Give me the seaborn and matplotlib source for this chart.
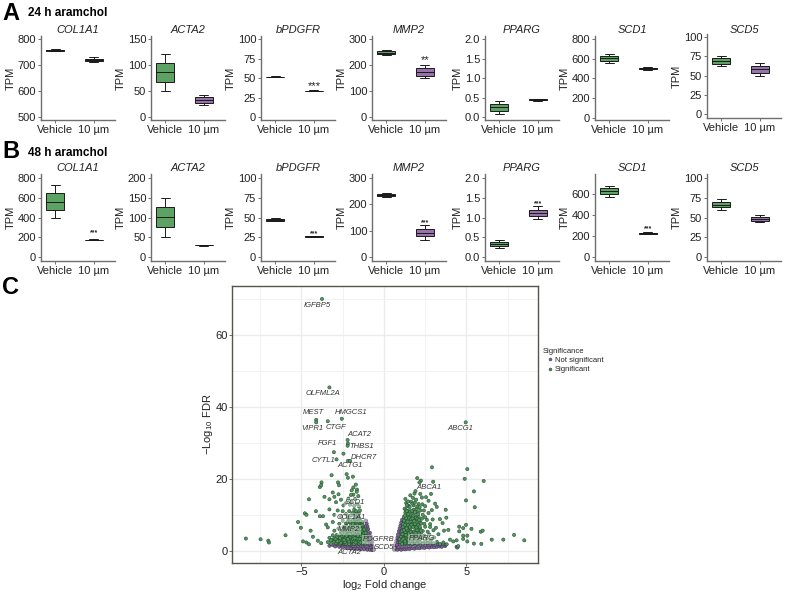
import matplotlib
matplotlib.use("Agg")
import matplotlib.pyplot as plt
import seaborn as sns
import pandas as pd

sns.set_theme(style="white")
plt.rcParams['font.family'] = ['Liberation Sans', 'DejaVu Sans']
plt.rcParams['mathtext.default'] = 'regular'

W, H = 787, 592
genes = ["COL1A1", "ACTA2", "bPDGFR", "MMP2", "PPARG", "SCD1", "SCD5"]
groups = ["Vehicle", "10 µm"]
panel_left = [41, 151, 261, 372, 485, 595, 707]

# five-number summaries: (vehicle, 10 µm)
a_COL1A1 = ([752, 755, 757, 759, 762], [712, 716, 720, 724, 730])
a_ACTA2 = ([50, 68, 86, 104, 121], [23, 28, 33, 39, 43])
a_bPDGFR = ([51.5, 51.8, 52, 52.2, 52.5], [33.5, 33.8, 34, 34.2, 34.5])
a_MMP2 = ([238, 243, 248, 254, 259], [150, 160, 175, 188, 200])
a_PPARG = ([0.1, 0.17, 0.26, 0.34, 0.42], [0.42, 0.44, 0.45, 0.46, 0.48])
a_SCD1 = ([560, 580, 605, 630, 650], [485, 495, 500, 508, 518])
a_SCD5 = ([62, 65, 69, 73, 76], [50, 54, 58, 63, 67])
b_COL1A1 = ([395, 475, 560, 645, 725], [170, 173, 175, 177, 180])
b_ACTA2 = ([50, 75, 101, 126, 150], [29, 30, 30, 30.5, 31])
b_bPDGFR = ([45, 46, 47, 48, 49.5], [25, 25.5, 26, 26.5, 27])
b_MMP2 = ([228, 232, 235, 238, 243], [65, 80, 92, 105, 120])
b_PPARG = ([0.24, 0.27, 0.33, 0.39, 0.44], [0.97, 1.03, 1.12, 1.19, 1.28])
b_SCD1 = ([575, 600, 625, 655, 680], [215, 220, 225, 230, 235])
b_SCD5 = ([59, 63, 66, 70, 73], [44, 46, 48, 51, 53])
row_a = [a_COL1A1, a_ACTA2, a_bPDGFR, a_MMP2, a_PPARG, a_SCD1, a_SCD5]
row_b = [b_COL1A1, b_ACTA2, b_bPDGFR, b_MMP2, b_PPARG, b_SCD1, b_SCD5]

ticks_a = [[500, 600, 700, 800], [0, 50, 100, 150], [0, 25, 50, 75, 100], [0, 100, 200, 300],
           [0.0, 0.5, 1.0, 1.5, 2.0], [0, 200, 400, 600, 800], [0, 25, 50, 75, 100]]
ticks_b = [[0, 200, 400, 600, 800], [0, 50, 100, 150, 200], [0, 25, 50, 75, 100], [0, 100, 200, 300],
           [0.0, 0.5, 1.0, 1.5, 2.0], [0, 200, 400, 600], [0, 25, 50, 75, 100]]
ylim_a = [(490, 811), (-4.8, 155.7), (-3.2, 103.8), (-9.6, 311), (-0.064, 2.08), (-25, 830), (-5, 104)]
ylim_b = [(-40, 840), (-10, 210), (-5, 105), (-15, 315), (-0.1, 2.1), (-38, 790), (-5, 105)]
stars_a = {2: ("***", 40, 8), 3: ("**", 220, 8)}
stars_b = {0: ("***", 243, 5), 2: ("***", 29.5, 5), 3: ("***", 130, 5),
           4: ("***", 1.34, 5), 5: ("***", 267, 5)}

# volcano: significant genes, left arm
sig_left_x = [-8.36, -7.47, -7.0, -6.96, -5.96, -5.2, -5.03, -4.79, -4.69, -4.54, -4.44, -4.12, -3.88, -3.69,
              -4.9, -4.69, -4.54, -4.3, -4.0, -3.8, -3.88, -3.78, -3.8, -3.17, -2.78, -2.72, -2.87, -3.03,
              -2.18, -2.05, -2.26, -2.18, -1.88, -1.7, -1.63, -2.18,
              -3.75, -3.3, -4.1, -4.1, -3.4, -2.55, -2.2, -2.2, -2.45,
              -3.4, -3.2, -3.05, -2.9, -2.8, -2.65, -2.55, -2.45, -2.3, -2.2, -2.1, -2.0, -1.9, -1.8, -1.7, -1.6,
              -1.5, -1.4, -1.3, -1.2, -1.1, -1.0,
              -3.3, -3.1, -3.0, -2.85, -2.7, -2.6, -2.45, -2.35, -2.25, -2.15, -2.05, -1.95, -1.85, -1.75, -1.65,
              -1.55, -1.45, -1.35, -1.25, -1.15, -1.05, -0.95,
              -3.4, -3.0, -2.75, -2.6, -2.45, -2.35, -2.2, -2.1, -2.0, -1.9, -1.8, -1.7, -1.6, -1.5, -1.4, -1.3,
              -1.25, -1.15,
              -3.5, -3.1, -2.7, -2.5, -2.3, -2.15, -2.0, -1.9, -1.8, -1.7, -1.6, -1.5, -1.45, -1.35, -1.3,
              -3.3, -3.0, -2.8, -2.6, -2.5, -2.3, -2.2, -2.1, -2.0, -1.9, -1.8, -1.7, -1.65, -1.55, -1.5, -1.45,
              -3.6, -3.3, -3.1, -3.0, -2.9, -2.75, -2.6, -2.45, -2.3, -2.15, -2.05, -1.95, -1.85, -1.8, -1.75,
              -1.65, -1.6, -1.55, -1.5, -1.95, -1.85, -2.0]
sig_left_y = [3.4, 3.2, 2.8, 2.3, 4.3, 8.0, 6.4, 10.4, 10.0, 14.3, 5.6, 11.0, 9.6, 9.6,
              2.6, 2.3, 1.8, 3.9, 2.8, 2.1, 17.7, 19.0, 18.2, 21.0, 19.0, 18.2, 25.4, 27.4,
              25.0, 25.0, 21.3, 20.3, 20.6, 18.4, 17.0, 29.8,
              70.0, 45.4, 36.4, 35.7, 36.0, 36.7, 30.8, 29.2, 27.0,
              2.4, 1.9, 2.9, 2.2, 3.1, 1.8, 2.6, 3.3, 2.0, 2.9, 1.9, 3.2, 2.4, 1.9, 3.1, 2.3,
              2.0, 2.9, 2.2, 3.0, 2.4, 2.1,
              3.6, 4.3, 3.5, 4.4, 3.8, 4.8, 4.1, 3.6, 4.7, 4.0, 3.7, 4.9, 3.9, 4.4, 3.7,
              4.8, 4.0, 4.6, 3.8, 4.5, 3.6, 3.3,
              6.5, 5.6, 6.2, 5.4, 6.6, 5.7, 6.3, 5.3, 6.8, 5.8, 6.4, 5.5, 6.7, 5.9, 6.4, 5.3,
              6.3, 5.6,
              7.3, 8.0, 7.5, 8.4, 7.6, 8.3, 7.4, 8.6, 7.7, 8.2, 7.3, 8.5, 7.8, 7.4, 8.0,
              11.5, 10.0, 11.2, 9.5, 11.0, 10.2, 9.2, 11.0, 9.8, 10.5, 11.4, 9.4, 10.6, 9.6, 10.3, 11.2,
              15.0, 14.3, 16.2, 15.0, 13.5, 15.7, 14.2, 12.6, 13.3, 14.5, 12.8, 13.6, 15.6, 12.5, 14.4,
              16.4, 13.0, 15.2, 12.3, 16.8, 17.6, 15.5]
# denser core of the left arm
core_left_x = [-2.62, -2.48, -2.37, -2.28, -2.12, -2.03, -1.93, -1.83, -1.72, -1.62, -1.52, -1.42, -1.32, -1.22, -1.12,
               -2.58, -2.41, -2.27, -2.17, -2.02, -1.88, -1.78, -1.68, -1.58, -1.47, -1.37, -1.27, -1.17, -1.07,
               -2.52, -2.33, -2.24, -2.08, -1.97, -1.87, -1.76, -1.63, -1.53, -1.43, -1.33, -1.21, -1.11,
               -2.42, -2.26, -2.11, -1.98, -1.83, -1.73, -1.57, -1.47, -1.38, -1.28, -1.19,
               -2.2, -2.04, -1.86, -1.74, -1.66, -1.54, -1.42, -1.31,
               -2.86, -3.02, -3.16, -2.74, -2.66, -3.22, -2.93, -2.82, -1.57, -1.68, -1.77, -1.48]
core_left_y = [2.2, 2.9, 2.4, 3.6, 2.6, 3.9, 2.8, 2.7, 2.3, 3.4, 2.7, 2.3, 3.5, 2.5, 3.1,
               3.9, 3.0, 4.2, 3.2, 4.4, 3.3, 3.5, 4.7, 4.2, 3.3, 4.1, 4.5, 3.4, 4.1,
               5.0, 5.2, 5.6, 4.7, 5.4, 5.0, 5.2, 5.2, 5.3, 5.1, 5.5, 4.9, 5.0,
               6.0, 6.9, 6.2, 6.1, 7.1, 6.9, 6.0, 6.9, 6.0, 6.8, 5.9,
               7.9, 8.1, 7.4, 8.7, 8.8, 8.1, 8.3, 7.1,
               3.7, 2.6, 3.0, 2.7, 3.5, 2.9, 3.2, 2.6, 9.9, 11.0, 10.1, 9.0]

# volcano: significant genes, right arm
sig_right_x = [2.91, 5.05, 2.02, 2.24, 2.15, 2.98, 4.89, 6.04, 5.45, 4.97, 5.5, 3.74, 3.78, 3.39, 3.55, 3.9, 3.64,
               4.56, 4.8, 4.97, 5.3, 5.86, 5.98, 4.56, 4.8, 5.05, 4.8, 6.53, 7.23, 7.88, 8.5, 5.45, 5.9, 5.05, 4.5,
               4.95,
               1.0, 1.1, 1.2, 1.3, 1.4, 1.5, 1.6, 1.7, 1.8, 1.9, 2.0, 2.1, 2.2, 2.35, 2.5, 2.65, 2.8, 3.0, 3.2, 3.4,
               3.6, 3.8, 4.0, 4.2, 4.4,
               0.95, 1.05, 1.15, 1.25, 1.35, 1.45, 1.55, 1.65, 1.75, 1.85, 1.95, 2.05, 2.15, 2.3, 2.45, 2.6, 2.75,
               2.9, 3.05, 3.3,
               1.1, 1.2, 1.3, 1.4, 1.5, 1.6, 1.7, 1.8, 1.9, 2.0, 2.1, 2.2, 2.35, 2.5, 2.65, 2.8, 3.0, 3.15,
               1.15, 1.25, 1.35, 1.45, 1.55, 1.65, 1.75, 1.85, 1.95, 2.05, 2.2, 2.3, 2.45, 2.6, 2.8, 2.95,
               1.2, 1.3, 1.4, 1.5, 1.6, 1.7, 1.8, 1.9, 2.0, 2.1, 2.2, 2.35, 2.5, 2.7, 2.9, 1.25, 1.35,
               1.5, 1.65, 1.8, 1.95, 2.1, 2.3, 2.5, 2.7, 1.6, 1.85, 2.2, 2.55, 2.85, 3.1, 3.2, 1.3, 1.35]
sig_right_y = [23.2, 22.7, 20.2, 19.5, 19.0, 19.2, 20.0, 19.4, 16.5, 14.0, 12.1, 11.4, 9.2, 8.8, 7.7, 5.8, 5.6,
               6.7, 6.3, 7.2, 6.1, 5.3, 5.6, 5.4, 4.2, 4.2, 3.3, 3.1, 3.1, 4.4, 2.9, 2.0, 1.9, 2.6, 1.3,
               35.7,
               2.4, 1.9, 2.8, 2.1, 3.0, 2.2, 2.7, 1.9, 2.9, 2.3, 2.0, 2.9, 2.4, 2.0, 2.7, 2.2, 2.6, 2.1, 2.5, 1.9,
               2.3, 1.8, 3.1, 2.6, 2.9,
               3.2, 3.9, 3.4, 4.4, 3.7, 4.7, 3.5, 4.2, 4.8, 3.6, 4.4, 3.8, 4.8, 3.5, 4.2, 3.4, 4.5,
               3.3, 3.7, 4.6,
               5.4, 6.3, 5.2, 6.6, 5.6, 6.2, 5.3, 6.8, 5.7, 6.4, 5.2, 6.1, 5.5, 6.7, 5.3, 6.6, 5.7, 6.4,
               7.4, 8.3, 7.6, 8.6, 7.3, 8.1, 7.6, 8.8, 7.4, 8.3, 7.8, 8.9, 7.5, 8.6, 7.4, 8.7,
               9.4, 10.6, 9.7, 11.0, 9.5, 10.4, 11.4, 9.6, 10.7, 9.4, 11.2, 10.0, 9.3, 10.5, 11.3, 11.7, 11.3,
               12.5, 13.6, 12.6, 14.2, 13.0, 14.8, 12.4, 13.9, 15.4, 15.9, 15.8, 14.9, 15.8, 13.1, 12.2, 14.4, 13.3]
# denser core of the right arm
core_right_x = [1.08, 1.18, 1.28, 1.38, 1.48, 1.58, 1.68, 1.78, 1.88, 1.98, 2.08, 2.18, 2.28,
                1.12, 1.22, 1.32, 1.42, 1.52, 1.62, 1.72, 1.82, 1.92, 2.02, 2.12, 2.24,
                1.17, 1.27, 1.37, 1.47, 1.57, 1.67, 1.77, 1.87, 1.97, 2.07, 2.17,
                1.22, 1.33, 1.43, 1.53, 1.63, 1.73, 1.83, 1.93, 2.03, 2.13, 2.26,
                1.28, 1.38, 1.48, 1.58, 1.68, 1.78, 1.88, 1.98, 2.08,
                1.43, 1.56, 1.72, 1.87, 2.03, 2.16, 1.38, 1.47, 1.76, 1.91, 2.33, 2.42]
core_right_y = [2.9, 3.3, 2.6, 4.1, 3.1, 4.4, 3.3, 4.2, 2.7, 3.4, 4.4, 3.3, 4.4,
                4.6, 5.7, 4.4, 5.8, 4.9, 5.2, 4.6, 5.1, 4.9, 5.7, 4.8, 5.6,
                6.7, 7.1, 6.2, 7.2, 6.7, 7.2, 6.6, 7.4, 6.5, 7.2, 6.7,
                8.4, 9.1, 8.1, 9.2, 8.8, 9.0, 8.2, 9.2, 8.9, 8.6, 7.6,
                9.8, 11.0, 10.2, 10.9, 11.1, 9.8, 10.8, 11.7, 10.3,
                12.4, 12.1, 13.1, 13.4, 12.3, 12.1, 12.7, 13.7, 14.7, 16.6, 12.9, 11.2]

# volcano: not significant genes
ns_x = [-0.62, -0.65, -0.7, -0.72, -0.75, -0.8, -0.82, -0.85, -0.9, -0.95, -0.98, -1.0, -1.05, -1.05, -1.1, -1.12,
        -0.78, -0.88, -0.92, -1.02, -1.08, -1.15, -1.2, -1.25,
        -3.3, -3.1, -2.95, -2.8, -2.7, -2.55, -2.4, -2.3, -2.15, -2.05, -1.95, -1.85, -1.75, -1.65, -1.55, -1.45,
        -1.35, -1.25, -1.15, -1.05, -0.95, -0.85, -0.75, -0.68,
        -2.9, -2.6, -2.35, -2.1, -1.9, -1.7, -1.5, -1.3, -1.1, -0.9, -0.8, -0.7, -0.6,
        -2.5, -2.2, -2.0, -1.8, -1.6, -1.4, -1.2, -1.0, -0.85, -0.72, -0.64,
        0.6, 0.65, 0.7, 0.75, 0.8, 0.85, 0.9, 0.95, 1.0, 1.05, 1.1, 0.8, 0.9, 1.0, 1.05, 1.1, 1.15, 0.72, 0.82,
        0.92, 1.02, 1.12, 1.2, 0.97, 1.08, 1.18,
        0.62, 0.72, 0.82, 0.95, 1.05, 1.18, 1.3, 1.42, 1.55, 1.7, 1.85, 2.0, 2.15, 2.3, 2.45, 2.6, 2.75, 2.9, 3.05,
        3.2, 3.35, 3.5, 3.7, 0.68, 0.88, 1.1, 1.35, 1.6, 1.9, 2.2, 2.5, 2.8, 3.1, 3.4, 3.75, 4.4, 4.45,
        0.66, 0.78, 0.98, 1.25, 1.5, 1.75, 2.05, 2.35, 2.65, 2.95, 3.25, 3.6]
ns_y = [0.5, 1.0, 2.2, 1.6, 3.2, 4.0, 2.8, 5.0, 3.8, 6.0, 4.8, 6.8, 7.6, 5.7, 8.4, 6.8,
        1.2, 2.0, 3.0, 2.6, 4.0, 5.0, 2.4, 3.4,
        1.4, 1.6, 1.2, 1.7, 1.1, 1.5, 1.8, 1.0, 1.4, 1.7, 0.9, 1.3, 1.8, 0.8, 1.2, 1.7,
        0.7, 1.1, 1.6, 0.6, 1.0, 1.5, 0.6, 1.1,
        1.9, 2.0, 1.9, 2.0, 1.9, 1.9, 1.9, 1.8, 1.8, 1.8, 0.9, 0.4, 0.3,
        0.9, 0.7, 0.6, 0.5, 0.5, 0.4, 0.4, 0.3, 0.3, 0.2, 0.2,
        0.6, 1.2, 2.0, 2.8, 3.6, 4.5, 5.4, 6.2, 7.0, 7.8, 8.6, 1.5, 2.6, 3.8, 4.8, 5.8, 6.8, 0.9, 2.2,
        3.3, 5.2, 4.2, 5.0, 2.2, 3.0, 3.8,
        0.3, 0.4, 0.3, 0.5, 0.3, 0.5, 0.4, 0.6, 0.5, 0.7, 0.6, 0.8, 0.7, 0.9, 0.8, 1.0, 0.9, 1.1, 1.0,
        1.1, 1.2, 1.1, 1.3, 0.8, 1.0, 1.1, 1.2, 1.3, 1.4, 1.5, 1.5, 1.6, 1.7, 1.6, 1.7, 1.1, 0.9,
        1.6, 1.7, 1.8, 1.8, 1.9, 1.9, 1.9, 2.0, 2.0, 1.9, 1.9, 1.8]

label_names = ["IGFBP5", "OLFML2A", "MEST", "VIPR1", "CTGF", "HMGCS1", "ACAT2", "FGF1", "THBS1", "DHCR7",
               "CYTL1", "ACTG1", "ABCA1", "ABCG1", "SCD1", "COL1A1", "MMP2", "PDGFRB", "SCD5", "PPARG", "ACTA2"]
label_x = [-4.06, -3.7, -4.3, -4.35, -2.9, -2.0, -1.5, -3.4, -1.35, -1.2, -3.65, -2.05, 2.7, 4.6,
           -1.75, -2.0, -2.1, -0.3, 0.0, 2.3, -2.1]
label_y = [68.3, 43.6, 38.3, 34.0, 34.3, 38.5, 32.4, 29.7, 29.0, 25.8, 25.0, 23.6, 17.6, 34.0,
           13.4, 9.2, 5.8, 3.1, 0.8, 3.3, -0.6]
boxed_labels = ["SCD1", "COL1A1", "MMP2", "PDGFRB", "SCD5", "PPARG"]

GREEN, PURPLE = "#4fae5a", "#9a68b4"
TEXT, SPINE = "#222222", "#6e6e6e"


def px_axes(fig, left, top, right, bottom):
    return fig.add_axes([left / W, 1 - bottom / H, (right - left) / W, (bottom - top) / H])


fig = plt.figure(figsize=(W / 100, H / 100), dpi=100, facecolor="white")


def draw_row(values, ticks, ylims, stars, top, bottom):
    for i, gene in enumerate(genes):
        shifted = i == 6 and top < 100
        dy = -2 if shifted else 0
        ax = px_axes(fig, panel_left[i], top + dy, panel_left[i] + 74, bottom + dy)
        df = pd.DataFrame({"group": [groups[0]] * 5 + [groups[1]] * 5,
                           "tpm": list(values[i][0]) + list(values[i][1])})
        sns.boxplot(data=df, x="group", y="tpm", hue="group", palette=[GREEN, PURPLE], dodge=False,
                    width=0.46, whis=100, linewidth=0.7, linecolor="#1a1a1a", showfliers=False,
                    legend=False, ax=ax)
        ax.set_xlim(-0.36, 1.54)
        ax.set_ylim(*ylims[i])
        ax.set_yticks(ticks[i])
        ax.set_yticklabels([f"{t:.1f}" if isinstance(t, float) else str(t) for t in ticks[i]])
        ax.set_xlabel("")
        ax.set_ylabel("TPM", fontsize=8, color=TEXT, labelpad=1.5)
        ax.set_title(gene, fontsize=8, style="italic", color=TEXT, pad=1.0 if shifted else 2.5)
        ax.tick_params(axis="both", labelsize=8, labelcolor=TEXT, length=2, width=0.7, color=SPINE,
                       pad=1.5, bottom=True, left=True)
        for s in ("top", "right"):
            ax.spines[s].set_visible(False)
        for s in ("left", "bottom"):
            ax.spines[s].set_color(SPINE)
            ax.spines[s].set_linewidth(1.0)
        if i in stars:
            txt, y, size = stars[i]
            ax.text(1, y, txt, ha="center", va="center", fontsize=size, color=TEXT,
                    fontweight="bold" if size < 8 else "normal")


draw_row(row_a, ticks_a, ylim_a, stars_a, 36, 120)
draw_row(row_b, ticks_b, ylim_b, stars_b, 174, 261)

fig.text(2 / W, 1 - 13 / H, "A", fontsize=17, fontweight="bold", color="black", va="center")
fig.text(28 / W, 1 - 13.5 / H, "24 h aramchol", fontsize=8.5, fontweight="bold", color="black", va="center")
fig.text(2 / W, 1 - 151 / H, "B", fontsize=17, fontweight="bold", color="black", va="center")
fig.text(28 / W, 1 - 153.5 / H, "48 h aramchol", fontsize=8.5, fontweight="bold", color="black", va="center")
fig.text(2 / W, 1 - 288 / H, "C", fontsize=17, fontweight="bold", color="black", va="center")

# volcano
ax = px_axes(fig, 232, 286, 538, 563)
n_sig = len(sig_left_x) + len(core_left_x) + len(sig_right_x) + len(core_right_x)
vol = pd.DataFrame({
    "fc": ns_x + sig_left_x + core_left_x + sig_right_x + core_right_x,
    "fdr": ns_y + sig_left_y + core_left_y + sig_right_y + core_right_y,
    "Significance": ["Not significant"] * len(ns_x) + ["Significant"] * n_sig,
})
sns.scatterplot(data=vol, x="fc", y="fdr", hue="Significance",
                palette={"Not significant": "#8d5aa8", "Significant": "#4d9a5c"},
                s=5.5, edgecolor="#23402a", linewidth=0.35, ax=ax, zorder=3)
ax.set_xlim(-9.2, 9.33)
ax.set_ylim(-3.4, 73.6)
ax.set_xticks([-5, 0, 5])
ax.set_xticklabels(["\u22125", "0", "5"])
ax.set_yticks([0, 20, 40, 60])
ax.set_xticks([-7.5, -2.5, 2.5, 7.5], minor=True)
ax.set_yticks([10, 30, 50, 70], minor=True)
ax.grid(which="major", color="#ececec", linewidth=1.0)
ax.grid(which="minor", color="#f2f2f2", linewidth=0.7)
ax.set_axisbelow(True)
ax.tick_params(axis="both", which="major", labelsize=8, labelcolor=TEXT, length=2, width=0.7, color=SPINE,
               pad=1, bottom=True, left=True)
ax.tick_params(axis="both", which="minor", length=0)
ax.set_xlabel(r"log$_{2}$ Fold change", fontsize=8, color=TEXT, labelpad=0.5)
ax.set_ylabel(r"$-$Log$_{10}$ FDR", fontsize=8, color=TEXT, labelpad=0.5)
for s in ax.spines.values():
    s.set_color("#55554a")
    s.set_linewidth(1.0)
for name, x, y in zip(label_names, label_x, label_y):
    kw = {}
    if name in boxed_labels:
        kw["bbox"] = dict(facecolor="white", edgecolor="none", alpha=0.4, pad=0.8)
    ax.text(x, y, name, fontsize=5.5, style="italic", color="#333333", ha="center", va="center", zorder=4, **kw)

handles, labels = ax.get_legend_handles_labels()
ax.legend(handles, labels, title="Significance", loc="upper left", bbox_to_anchor=(538.5 / W, 1 - 344 / H),
          bbox_transform=fig.transFigure, frameon=False, fontsize=5.5, title_fontsize=5.5,
          labelspacing=0.25, handletextpad=-0.4, borderpad=0, alignment="left", markerscale=0.9)
leg = ax.get_legend()
for t in leg.get_texts():
    t.set_color(TEXT)
leg.get_title().set_color(TEXT)

fig.savefig("out.png", dpi=100, facecolor="white")
